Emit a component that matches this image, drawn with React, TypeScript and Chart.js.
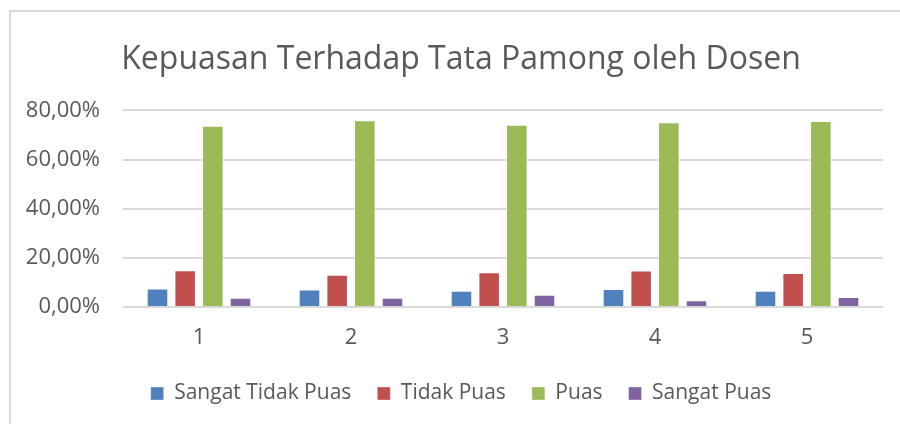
import React, { useEffect, useRef } from "react";
import { Chart, registerables } from "chart.js";

Chart.register(...registerables);

const categories = ["1", "2", "3", "4", "5"];
const sangatTidakPuas = [7.5, 7.1, 6.6, 7.3, 6.6];
const tidakPuas = [15.0, 13.1, 14.1, 14.9, 13.8];
const puas = [73.8, 76.0, 74.2, 75.2, 75.7];
const sangatPuas = [3.8, 3.8, 5.0, 2.7, 4.1];
const seriesNames = ["Sangat Tidak Puas", "Tidak Puas", "Puas", "Sangat Puas"];
const seriesColors = ["#4F81BD", "#C0504D", "#9BBB59", "#8064A2"];
const titleText = "Kepuasan Terhadap Tata Pamong oleh Dosen";

const FONT = "'Open Sans', 'Noto Sans', sans-serif";
const TEXT = "#595959";

export default function App() {
  const ref = useRef<HTMLCanvasElement>(null);
  useEffect(() => {
    document.body.style.margin = "0";
    const values = [sangatTidakPuas, tidakPuas, puas, sangatPuas];
    const chart = new Chart(ref.current!, {
      type: "bar",
      data: {
        labels: categories,
        datasets: seriesNames.map((n, i) => ({
          label: n,
          data: values[i],
          backgroundColor: seriesColors[i],
          borderColor: "rgba(255,255,255,0.35)",
          borderWidth: 1,
          categoryPercentage: 0.728,
          barPercentage: 0.78,
        })),
      },
      options: {
        animation: false,
        responsive: false,
        maintainAspectRatio: false,
        layout: { padding: { left: 22, right: 0, top: 11, bottom: 10 } },
        plugins: {
          title: {
            display: true,
            text: titleText,
            color: TEXT,
            font: { family: FONT, size: 32, weight: "normal" },
            padding: { top: 30, bottom: 31 },
          },
          legend: {
            position: "bottom",
            labels: {
              color: TEXT,
              font: { family: FONT, size: 21 },
              boxWidth: 13,
              boxHeight: 13,
              padding: 26,
            },
          },
          tooltip: { enabled: false },
        },
        scales: {
          x: {
            afterFit: (s: any) => { s.height = 50; },
            grid: { display: false, drawTicks: false },
            border: { display: false },
            ticks: { color: TEXT, font: { family: FONT, size: 22 }, padding: 18 },
          },
          y: {
            min: 0,
            max: 80,
            afterFit: (s: any) => { s.width = 101; },
            grid: { color: "#d9d9d9", lineWidth: 2, drawTicks: false },
            border: { display: false },
            ticks: {
              stepSize: 20,
              color: TEXT,
              padding: 23,
              font: { family: FONT, size: 22 },
              callback: (v: any) => Number(v).toFixed(2).replace(".", ",") + "%",
            },
          },
          y2: {
            position: "right",
            afterFit: (s: any) => { s.width = 17; },
            grid: { display: false, drawTicks: false },
            border: { display: false },
            ticks: { display: false },
          },
        },
      },
    });
    return () => chart.destroy();
  }, []);
  return (
    <div style={{ position: "relative", width: 900, height: 424, overflow: "hidden", background: "#fff" }}>
      <div
        style={{
          position: "absolute",
          left: 9,
          top: 10,
          width: 1000,
          height: 1000,
          border: "2px solid #d9d9d9",
        }}
      />
      <canvas ref={ref} width={900} height={424} style={{ position: "absolute", left: 0, top: 0 }} />
    </div>
  );
}
